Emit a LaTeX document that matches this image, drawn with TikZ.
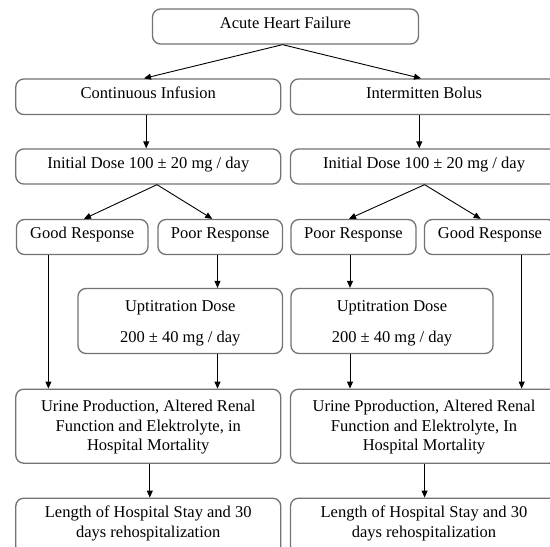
\documentclass[tikz,border=0pt]{standalone}
\usepackage{fontspec}
\setmainfont{Liberation Serif}
\usetikzlibrary{arrows.meta}
\definecolor{boxline}{RGB}{115,115,115}
\tikzset{
  box/.style={draw=boxline, line width=1.3pt, rounded corners=8pt, inner sep=0pt,
    align=center, font=\fontsize{16.5}{19.5}\selectfont, text height=12pt, text depth=9pt},
  twoline/.style={font=\fontsize{16.5}{30.7}\selectfont, text height=42.7pt, text depth=0.3pt},
  threeline/.style={font=\fontsize{16.5}{19.2}\selectfont, text height=50.4pt, text depth=2.4pt},
  lenline/.style={font=\fontsize{16.5}{20}\selectfont, text height=32pt, text depth=9pt},
  arr/.style={draw=black, line width=0.9pt, -{Triangle[length=7pt,width=6pt]}}
}
\begin{document}
\begin{tikzpicture}[x=1pt,y=-1pt]
\clip (0,0) rectangle (550,547);
\fill[white] (0,0) rectangle (550,547);
% row 1
\node[box, minimum width=266pt, minimum height=35pt] (afh) at (285.5,26.5) {Acute Heart Failure};
% row 2
\node[box, minimum width=265pt, minimum height=35.5pt] (ci) at (148.25,96.75) {Continuous Infusion};
\node[box, minimum width=267pt, minimum height=35.5pt] (ib) at (424,96.75) {Intermitten Bolus};
% row 3
\node[box, minimum width=265pt, minimum height=35pt] (id1) at (148.25,166.5) {Initial Dose 100 ± 20 mg / day};
\node[box, minimum width=267pt, minimum height=35pt] (id2) at (424,166.5) {Initial Dose 100 ± 20 mg / day};
% row 4
\node[box, minimum width=131.5pt, minimum height=35pt] (gr1) at (82.25,237) {Good Response};
\node[box, minimum width=124.5pt, minimum height=35pt] (pr1) at (220.25,237) {Poor Response};
\node[box, minimum width=125pt, minimum height=35pt] (pr2) at (353.5,237) {Poor Response};
\node[box, minimum width=131pt, minimum height=35pt] (gr2) at (490,237) {Good Response};
% row 5
\node[box, twoline, minimum width=204.5pt, minimum height=65pt] (up1) at (180.25,321) {Uptitration Dose\\200 ± 40 mg / day};
\node[box, twoline, minimum width=202pt, minimum height=65pt] (up2) at (392,321) {Uptitration Dose\\200 ± 40 mg / day};
% row 6
\node[box, threeline, minimum width=265pt, minimum height=74pt] (ur1) at (148.25,426.2) {Urine Production, Altered Renal\\Function and Elektrolyte, in\\Hospital Mortality};
\node[box, threeline, minimum width=267pt, minimum height=74pt] (ur2) at (424,426.2) {Urine Pproduction, Altered Renal\\Function and Elektrolyte, In\\Hospital Mortality};
% row 7
\node[box, lenline, minimum width=265pt, minimum height=56pt] (ls1) at (148.25,526.2) {Length of Hospital Stay and 30\\days rehospitalization};
\node[box, lenline, minimum width=267pt, minimum height=56pt] (ls2) at (424,526.2) {Length of Hospital Stay and 30\\days rehospitalization};
% connectors
\draw[arr] ([xshift=-3pt]afh.south) -- ([xshift=-4.25pt]ci.north);
\draw[arr] ([xshift=-3pt]afh.south) -- ([xshift=-3pt]ib.north);
\draw[arr] ([xshift=-2pt]ci.south) -- ([xshift=-2pt]id1.north);
\draw[arr] ([xshift=-4.7pt]ib.south) -- ([xshift=-4.7pt]id2.north);
\draw[arr] ([xshift=8.75pt]id1.south) -- ([xshift=1.75pt]gr1.north);
\draw[arr] ([xshift=8.75pt]id1.south) -- ([xshift=-8pt]pr1.north);
\draw[arr] ([xshift=0.6pt]id2.south) -- ([xshift=-4.5pt]pr2.north);
\draw[arr] ([xshift=0.6pt]id2.south) -- ([xshift=-9.3pt]gr2.north);
\draw[arr] ([xshift=-2.75pt]pr1.south) coordinate (p1) -- (p1 |- up1.north);
\draw[arr] ([xshift=-3.5pt]pr2.south) coordinate (p2) -- (p2 |- up2.north);
\draw[arr] ([xshift=-33.85pt]gr1.south) coordinate (g1) -- (g1 |- ur1.north);
\draw[arr] ([xshift=31.7pt]gr2.south) coordinate (g2) -- (g2 |- ur2.north);
\draw[arr] ([xshift=37.25pt]up1.south) coordinate (u1) -- (u1 |- ur1.north);
\draw[arr] ([xshift=-42pt]up2.south) coordinate (u2) -- (u2 |- ur2.north);
\draw[arr] ([xshift=1.55pt]ur1.south) coordinate (r1) -- (r1 |- ls1.north);
\draw[arr] ([xshift=0.6pt]ur2.south) coordinate (r2) -- (r2 |- ls2.north);
\end{tikzpicture}
\end{document}
